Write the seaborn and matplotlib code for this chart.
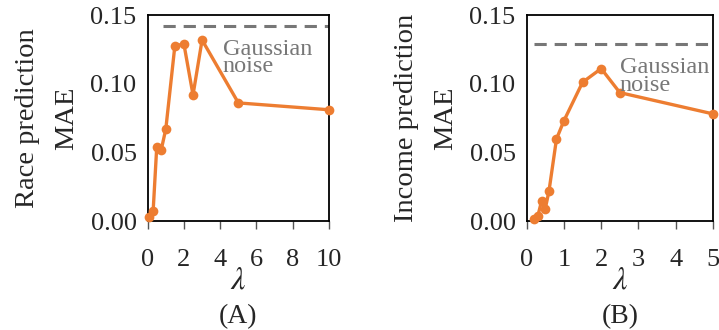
import matplotlib
matplotlib.use("Agg")
import matplotlib.pyplot as plt
import numpy as np
import pandas as pd
import seaborn as sns

# panel A: race prediction
lam_a = [0.1, 0.3, 0.5, 0.75, 1.0, 1.5, 2.0, 2.5, 3.0, 5.0, 10.0]
mae_a = [0.0027, 0.007, 0.054, 0.052, 0.067, 0.1277, 0.1287, 0.0918, 0.1318, 0.086, 0.081]
noise_a = 0.1422

# panel B: income prediction
lam_b = [0.2, 0.3, 0.4, 0.5, 0.6, 0.8, 1.0, 1.5, 2.0, 2.5, 5.0]
mae_b = [0.0015, 0.0036, 0.0146, 0.009, 0.022, 0.0597, 0.073, 0.101, 0.111, 0.0935, 0.078]
noise_b = 0.129

xticks_a = [0, 2, 4, 6, 8, 10]
xticks_b = [0, 1, 2, 3, 4, 5]
yticks = [0.0, 0.05, 0.10, 0.15]

sns.set_theme(style="ticks")
plt.rcParams["font.family"] = ["Liberation Serif", "DejaVu Serif"]
plt.rcParams["mathtext.fontset"] = "stix"

orange = "#ED7D31"
grey = "#777777"

fig = plt.figure(figsize=(7.19, 3.30), dpi=100)
ax_a = fig.add_axes([0.2054, 0.3303, 0.2522, 0.6242])
ax_b = fig.add_axes([0.7325, 0.3303, 0.2591, 0.6242])

panels = [
    (ax_a, lam_a, mae_a, noise_a, (0.85, 10), 10, xticks_a, "Race prediction\nMAE", "(A)", (4.15, 0.1085)),
    (ax_b, lam_b, mae_b, noise_b, (0.2, 5), 5, xticks_b, "Income prediction\nMAE", "(B)", (2.5, 0.095)),
]

for ax, lam, mae, noise, span, xmax, xt, ylab, tag, tpos in panels:
    df = pd.DataFrame({"lam": lam, "mae": mae})
    sns.lineplot(data=df, x="lam", y="mae", ax=ax, color=orange, lw=2.4,
                 marker="o", markersize=7, markeredgewidth=0, clip_on=False, zorder=3)
    ax.hlines(noise, span[0], span[1], colors=grey, linestyles=(0, (4, 2.6)), lw=2.2, zorder=2)
    # va=baseline on two lines -> anchored at the baseline of "noise"
    ax.text(tpos[0], tpos[1], "Gaussian\nnoise", color=grey, fontsize=17.5, linespacing=0.78,
            ha="left", va="baseline")
    ax.set_xlim(0, xmax)
    ax.set_ylim(0, 0.15)
    ax.set_xticks(xt)
    ax.set_yticks(yticks)
    ax.set_yticklabels([f"{v:.2f}" for v in yticks])
    ax.tick_params(axis="x", direction="out", length=6, width=1, color="#555555",
                   pad=14, labelsize=19)
    ax.tick_params(axis="y", length=0, pad=8, labelsize=19)
    for s in ax.spines.values():
        s.set_visible(True)
        s.set_linewidth(1.3)
        s.set_color("black")
    ax.set_xlabel(r"$\lambda$", fontsize=23, labelpad=-3)
    ax.set_ylabel(ylab, fontsize=20.5, linespacing=1.75, labelpad=8)
    ax.text(0.5, -0.405, tag, transform=ax.transAxes, ha="center", va="top", fontsize=20)

fig.savefig("out.png", dpi=100)
